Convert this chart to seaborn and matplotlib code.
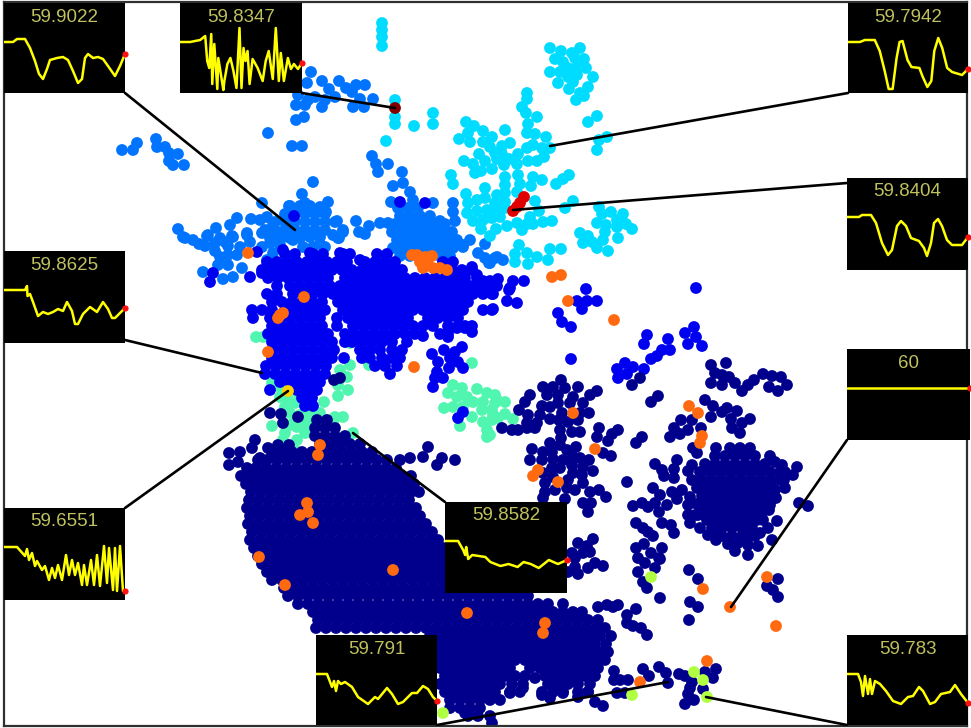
import pandas as pd
import seaborn as sns
import matplotlib
matplotlib.use("Agg")
import matplotlib.pyplot as plt

W, H = 971, 728
DOT_AREA = 72

COLORS = {"sky": "#0073ff", "cyan": "#00dcff", "mint": "#50f5b0", "blue": "#0000f0",
          "navy": "#00008c", "lime": "#b0ff40", "orange": "#ff6a10", "red": "#e00000",
          "maroon": "#800000", "gold": "#ffd000"}

sky_points = [(122,150),(133,150),(137,143),(156,139),(157,147),(165,147),(169,153),(178,154),(169,161),(173,165),(184,165),
 (268,133),(292,146),(302,146),(313,182),(302,194),(305,203),(262,203),(289,206),(311,72),(307,83),(298,95),(296,105),(305,105),
 (296,120),(304,117),(315,97),(308,100),(339,81),(346,88),(356,85),(365,85),(352,92),(360,99),(373,99),(353,107),(364,107),
 (329,89),(335,97),(322,81),(322,107),(325,100),(372,156),(376,164),(378,172),(388,164),(402,172),(403,183),(393,186),(410,192),
 (413,200),(391,202),(433,203),(453,203),(453,212),(455,221),(440,221),(356,221),(369,226),(359,232),(365,234),(380,223),(388,223),
 (396,228),(328,202),(326,212),(337,221),(343,230),(339,238),(320,207),(470,240),(463,247),(485,244),(478,253),(485,258),(497,257),
 (490,263),(503,260),(178,229),(183,237),(208,235),(216,228),(230,225),(237,218),(251,219),(260,220),(267,217),(273,225),(283,232),
 (247,233),(262,233),(220,238),(232,236),(185,238),(193,240),(199,244),(207,236),(215,243),(225,242),(233,237),(247,235),(250,242),
 (220,257),(228,255),(240,247),(237,255),(218,265),(228,265),(242,268),(203,272),(223,279),(233,277),(270,243),(262,247),(273,253),
 (267,260),(283,237),(280,245),(293,240),(303,247),(313,247),(325,247),(338,238),(310,237),(320,237),(333,235),(343,232),(463,245),
 (489,263),(495,258),(290,206),(300,206),(310,206),(285,214),(295,214),(305,214),(315,214),(325,214),(275,222),(285,222),(295,222),
 (305,222),(315,222),(325,222),(335,222),(265,230),(275,230),(285,230),(295,230),(305,230),(315,230),(325,230),(270,238),(280,238),
 (290,238),(300,238),(320,244),(205,246),(215,251),(228,246),(398,208),(408,208),(418,208),(400,216),(410,216),(420,216),(430,216),
 (395,224),(405,224),(415,224),(425,224),(435,224),(445,224),(392,232),(402,232),(412,232),(422,232),(432,232),(442,232),(452,232),
 (397,240),(407,240),(417,240),(427,240),(437,240),(447,240),(457,240),(393,248),(403,248),(413,248),(423,248),(433,248),(443,248),
 (453,248),(400,256),(410,256),(440,256),(450,256)]

cyan_points = [(382,23),(382,30),(382,37),(382,46),(395,100),(395,117),(395,124),(414,126),(433,113),(433,124),(386,141),
 (550,48),(561,51),(572,53),(580,48),(555,59),(563,62),(575,58),(584,59),(550,72),(560,72),(568,68),(577,67),(586,68),(568,77),
 (577,75),(593,77),(558,83),(573,82),(569,89),(580,93),(588,87),(584,96),(576,100),(527,93),(527,99),(522,107),(526,113),(537,117),
 (528,124),(527,133),(535,134),(546,137),(550,148),(542,148),(533,145),(527,148),(518,154),(544,157),(537,161),(528,161),(517,164),
 (509,159),(504,165),(497,159),(502,154),(510,143),(502,146),(492,137),(483,131),(505,130),(474,126),(466,122),(468,133),(459,139),
 (470,142),(483,142),(490,147),(495,153),(479,154),(485,161),(464,161),(473,164),(475,173),(481,171),(492,169),(451,175),(453,184),
 (588,122),(597,116),(607,137),(599,140),(597,150),(518,175),(533,177),(542,180),(505,177),(505,185),(520,184),(531,186),(556,184),
 (563,179),(569,175),(485,188),(466,194),(497,195),(505,193),(517,192),(468,203),(477,200),(485,198),(495,203),(505,202),(535,201),
 (573,201),(565,208),(539,211),(467,213),(477,211),(487,210),(497,212),(505,208),(473,221),(483,220),(492,218),(500,217),(530,217),
 (527,224),(533,224),(543,222),(552,221),(481,229),(496,229),(507,226),(517,223),(522,230),(490,236),(599,207),(602,214),(611,212),
 (623,214),(617,220),(597,223),(606,225),(617,227),(626,224),(632,229),(605,232),(618,238),(603,240),(580,233),(588,236),(583,243),
 (592,242),(597,248),(608,251),(519,245),(515,254),(527,253),(537,257),(550,249),(561,249),(548,260),(515,262),(528,264)]

mint_points = [(256,337),(263,337),(350,365),(369,365),(472,363),(327,357),(350,343),(340,370),(347,377),(338,385),(348,390),
 (338,396),(324,402),(272,383),(280,387),(287,397),(298,393),(295,403),(285,407),(290,413),(310,413),(320,413),(335,417),(343,417),
 (333,423),(272,426),(285,433),(297,427),(307,423),(305,433),(297,440),(295,450),(283,440),(353,433),(327,448),(335,450),(300,415),
 (280,397),(306,413),(295,420),(290,425),
 (453,385),(462,388),(448,393),(457,397),(477,389),(487,393),(467,397),(473,402),(483,402),(497,400),(444,408),(453,407),(463,407),
 (472,417),(482,410),(492,410),(483,422),(492,420),(498,418),(487,430),(487,437),(460,426),(495,395),(505,402),(495,403),(505,414),
 (513,419),(493,415),(490,435)]

blue_rows = {
 254: [285,295,313,323,343,350,377,387],
 262: [267,277,287,297,307,317,327,337,347,365,375,385,395,443,453],
 270: [262,272,282,292,302,312,322,332,342,352,362,372,382,392,402,452,462,472],
 278: [268,278,288,298,308,318,328,345,355,365,375,385,395,405,415,425,435,445,455,465,477],
 286: [277,290,300,310,320,330,340,350,360,370,380,390,400,410,420,430,440,450,460,470,480,490,497],
 294: [267,277,293,303,313,323,333,343,353,363,373,383,393,403,413,423,433,443,453,463,473,483,492],
 302: [272,282,292,302,312,322,338,348,358,368,378,388,398,408,418,428,438,448,458,468],
 310: [252,262,272,285,295,305,315,325,343,353,363,373,383,393,403,413,423,433,443,453,463,483,492],
 318: [253,270,280,290,300,310,320,337,348,358,368,378,388,398,408,428,438,448,458],
 326: [272,282,292,302,312,322,337,353,363,373,383,393,403,413,423,433,448,458,465,472],
 334: [268,278,288,298,308,318,328,345,355,365,375,385,395,405,415,440,448],
 342: [272,282,292,302,312,322,332,345,352,362,372,382,392,407],
 350: [274,284,294,304,314,324,334,360,370,380,392,402],
 358: [272,282,292,302,312,322,332,344,362,370,382,392,400],
 366: [266,276,286,296,306,316,326,375,385,397],
 374: [265,275,285,295,305,315,325,390],
 382: [280,290,300,310,320],
 390: [270,297,307,317],
 398: [302,312],
 406: [305,313]}

blue_points = [(210,282),(213,273),(257,252),(250,277),(262,273),(283,250),(310,253),(340,253),(360,260),(294,216),(400,202),(425,203),
 (432,354),(444,350),(462,347),(455,352),(438,362),(450,358),(458,362),(463,368),(449,368),(437,372),(443,378),(435,378),(433,387),
 (463,412),(458,418),(472,267),(477,275),(498,279),(490,281),(483,281),(513,281),(524,281),(510,288),(509,290),(493,294),(507,301),
 (517,303),(493,309),(586,289),(577,301),(587,301),(597,301),(582,309),(558,313),(562,322),(571,327),(571,359),(696,288),(694,327),
 (685,333),(696,337),(688,344),(702,346),(668,339),(647,335),(644,344),(670,350),(662,350),(657,356),(651,359),(644,369),(633,367),
 (625,363),(617,369),(627,374),(618,378),(472,332),(465,328),(457,328),(448,337),(423,336)]

navy_rows = {
 420: [317,327],
 428: [315,325,335],
 436: [315,325,335,345],
 444: [320,330,340,350,360],
 452: [272,282,292,302,312,322,332,342,352,362,372],
 460: [258,267,277,287,297,307,317,327,337,347,357,367,377,387],
 468: [247,256,266,276,286,296,306,316,326,336,346,356,366,376,386,396],
 476: [241,251,261,271,281,291,301,311,321,331,341,351,361,371,381,391,401,411],
 484: [246,256,266,276,286,296,306,316,326,336,346,356,366,376,386,396,406,414],
 492: [251,261,271,281,291,301,311,321,331,341,351,361,371,381,391,401,411,419],
 500: [249,259,269,279,289,299,309,319,329,339,349,359,369,379,389,399,409],
 508: [247,257,267,277,287,297,307,317,327,337,347,357,367,377,387,397,407,416],
 516: [250,260,270,280,290,300,310,320,330,340,350,360,370,380,390,400,410,420],
 524: [248,258,268,278,288,298,308,318,328,338,348,358,368,378,388,398,408,418,426],
 532: [252,262,272,282,292,302,312,322,332,342,352,362,372,382,392,402,412,422,432],
 540: [250,260,270,280,290,300,310,320,330,340,350,360,370,380,390,400,410,420,430,438],
 548: [254,264,274,284,294,304,314,324,334,344,354,364,374,384,394,404,414,424,434,443],
 556: [258,268,278,288,298,308,318,328,338,348,358,368,378,388,398,408,418,428,438,446],
 564: [262,272,282,292,302,312,322,332,342,352,362,372,382,392,402,412,422,432,442],
 572: [267,277,287,297,307,317,327,337,347,357,367,377,387,397,407,417,427,437,446],
 580: [272,282,292,302,312,322,332,342,352,362,372,382,392,402,412,422,432,442],
 588: [284,294,304,314,324,334,344,354,364,374,384,394,404,414,424,434,444],
 596: [288,298,308,318,328,338,348,358,368,378,388,398,408,418,428,438,448,458,468,478,488,498,508,518,528],
 604: [298,308,318,328,338,348,358,368,378,388,398,408,418,428,438,448,458,468,478,488,498,508,518,528,538,548,563],
 612: [313,323,333,343,353,363,373,383,393,403,413,423,433,443,453,463,473,483,493,503,513,523,533,543,553,563,573,582],
 620: [318,328,338,348,358,368,378,388,398,408,418,428,438,448,458,468,478,488,498,508,518,528,538,548,558,568,578,588,598],
 628: [316,326,336,346,356,366,376,386,396,406,416,426,436,446,456,466,476,486,496,506,516,526,536,546,556,566,576,586,596,605],
 636: [430,440,450,460,470,480,490,500,510,520,530,540,550,560,570,580,590,600,611],
 644: [435,445,455,465,475,485,495,505,515,525,535,545,555,565,575,585,595,606],
 652: [440,450,460,470,480,490,500,510,520,530,540,550,560,570,580,590,600,608],
 660: [435,445,455,465,475,485,495,505,515,525,535,545,555,565,575,585,595,605],
 668: [440,450,460,470,480,490,500,510,530,540,550,560,570,580,590,598],
 676: [445,455,465,475,485,495,505,515,525,545,555,565,575,585,595],
 684: [440,450,460,470,480,490,500,512,523,548,558,568,578,590],
 692: [445,455,465,475,485,495,510,520,542,553,563,578,588],
 700: [450,460,470,480,490,500],
 708: [450,460,470,480],
 716: [468,478,490]}

navy_points = [(255,440),(229,453),(240,452),(252,448),(268,448),(278,445),(289,445),(260,458),(229,465),(238,462),(428,447),(423,457),
 (410,458),(400,460),(442,458),(455,460),(437,465),(270,413),(281,414),(298,417),(283,423),(334,380),(340,378),
 (640,378),(632,385),(658,396),(651,402),(711,365),(726,363),(715,373),(722,375),(729,377),(711,383),(722,385),(735,383),(742,391),
 (748,385),(754,380),(763,374),(772,376),(781,377),(787,385),(769,387),(778,391),(561,380),(543,387),(553,387),(565,388),(578,387),
 (547,395),(558,395),(573,397),(597,391),(590,395),(530,395),(525,402),(558,403),(570,403),(583,403),(519,410),(542,406),(550,407),
 (562,413),(580,413),(589,413),(528,415),(540,415),(537,423),(527,423),(550,419),(559,420),(568,422),(578,420),(502,428),(512,430),
 (518,430),(527,428),(535,428),(560,430),(572,432),(580,432),(599,428),(618,430),(612,434),(597,437),(608,441),(561,438),(550,443),
 (560,445),(576,447),(567,450),(532,449),(543,452),(552,452),(603,453),(611,456),(573,457),(530,460),(542,460),(553,459),(563,460),
 (580,458),(589,460),(572,465),(583,467),(593,471),(552,468),(560,468),(543,473),(573,473),(582,475),(553,477),(568,480),(545,483),
 (583,483),(567,488),(575,490),(545,492),(555,490),(590,492),(599,490),(606,497),(543,498),(565,499),(583,503),(591,503),(588,512),
 (627,482),(636,443),(642,437),(670,437),(680,434),(688,430),(674,428),(681,420),(692,420),(701,428),(705,400),(713,406),(711,417),
 (722,412),(727,408),(737,411),(731,419),(742,423),(750,419),(732,428),(740,433),(693,448),(716,448),(775,462),(782,465),(797,467),
 (793,475),(785,488),(775,490),(776,498),(769,510),(777,521),(799,503),(808,506),(772,540),(760,533),(758,546),(748,555),(735,551),
 (728,544),(716,540),(718,533),(748,545),(738,543),(655,464),(662,470),(664,476),(677,460),(674,469),(674,478),(688,471),(653,488),
 (660,495),(672,492),(682,490),(677,499),(667,505),(659,512),(655,503),(648,507),(642,503),(633,506),(688,505),(688,515),(690,523),
 (698,515),(636,523),(643,528),(648,532),(653,536),(662,523),(671,525),(674,533),(636,548),(644,544),(651,553),(662,548),(638,558),
 (659,558),(578,543),(593,539),(587,546),(583,553),(572,553),(590,552),(595,563),(603,566),(588,568),(575,558),(575,567),(578,574),
 (568,572),(660,559),(645,563),(655,568),(638,572),(643,582),(647,588),(660,598),(689,570),(698,579),(690,602),(698,607),(689,620),
 (778,579),(767,586),(773,590),(778,597),(598,607),(607,605),(618,605),(613,607),(636,609),(627,615),(627,623),(633,626),(641,628),
 (647,635),(643,669),(649,676),(659,667),(666,673),(668,683),(679,674),(685,676),(692,682),(690,688),(688,694),(685,704),(694,700),
 (705,672),(716,669),(713,678),(703,689),(614,671),(620,680),(628,680),(614,680),(617,693),(625,693),(603,706),(595,702),(510,693),
 (523,688),(535,678),(542,695),(550,698),(563,693),(578,697),(588,692),(465,713),(492,723),
 (697,453),(690,497),(695,515),(700,528),(708,535),(763,520),(768,528),(755,536),(770,505),(780,480),(692,465),(785,472),(770,456)]

navy_core_rows = {
 448: [730,740,750],
 456: [715,725,735,745,755],
 464: [705,715,725,735,745,755,765],
 472: [700,710,720,730,740,750,760,770,780],
 480: [692,702,712,722,732,742,752,762,772,784],
 488: [697,707,717,727,737,747,757,767],
 496: [702,712,722,732,742,752,762,770],
 504: [697,707,717,727,737,747,757,765],
 512: [702,712,722,732,742,752,762],
 520: [707,717,727,737,747,757],
 528: [712,722,732,742,752],
 536: [722,732,742,750]}

lime_points = [(651,577),(694,672),(703,680),(707,697),(632,695),(443,713)]

orange_points = [(412,255),(417,255),(420,262),(425,257),(432,256),(423,268),(433,268),(440,268),(447,270),(427,262),(248,253),(304,297),
 (280,315),(283,313),(278,318),(268,352),(414,367),(552,277),(561,275),(568,301),(614,320),(689,406),(698,413),(702,436),(700,443),
 (595,449),(573,413),(538,470),(533,476),(558,482),(320,445),(318,455),(307,503),(308,512),(300,515),(313,523),(259,557),(285,585),
 (393,570),(467,613),(545,623),(543,633),(703,589),(767,577),(730,607),(776,626),(640,682),(707,661)]

red_points = [(524,197),(520,203),(517,207),(513,211)]
maroon_points = [(395,108)]
gold_points = [(288,391)]

labels = ["59.9022", "59.8347", "59.7942", "59.8404", "59.8625", "60", "59.6551", "59.8582", "59.791", "59.783"]
box_left = [4, 180, 848, 847, 4, 847, 4, 445, 316, 847]
box_top = [3, 3, 3, 178, 251, 349, 508, 502, 635, 635]
box_right = [125, 302, 968, 968, 125, 970, 125, 567, 437, 968]
box_bottom = [93, 93, 93, 270, 343, 440, 600, 593, 725, 725]
leader_x = [(125,295), (302,395), (848,550), (847,513), (125,262), (847,731), (125,288), (445,353), (437,668), (847,706)]
leader_y = [(93,230), (93,108), (93,146), (183,210), (340,373), (440,607), (508,391), (502,433), (725,682), (725,697)]

# traces: time steps along the window and drop below the 60 level
t1 = [0,9,13,21,26,31,35,39,43,46,53,59,64,69,74,78,81,84,89,94,99,104,111,116,121]
d1 = [0,0,-3,-3,6,19,32,37,27,18,16,15,18,29,41,37,16,12,16,15,17,24,34,24,12]
t2 = [0,10,20,25,27,29,31,32,34,37,38,43,44,47,50,53,56,59,61,63,65,67,69,72,77,82,85,88,92,95,98,100,103,107,110,113,117,121]
d2 = [0,0,-2,-6,19,26,-8,42,2,47,16,48,39,22,16,29,46,-14,46,6,19,9,42,17,26,39,19,9,37,-14,39,11,39,16,27,22,27,21]
t3 = [0,12,17,27,32,37,41,45,49,52,55,60,64,72,75,80,84,87,91,95,100,105,115,121]
d3 = [0,0,-2,-2,9,29,47,47,16,0,-1,18,25,26,34,45,39,9,-4,6,26,30,33,27]
t4 = [0,12,15,24,29,35,41,45,50,54,59,64,72,77,80,84,87,91,95,100,105,115,121]
d4 = [0,0,-2,-2,6,26,38,33,9,4,9,21,24,31,39,26,6,2,9,23,28,28,20]
t5 = [0,21,23,23.5,26,29,34,39,44,49,54,59,63,68,71,74,79,86,93,99,104,108,111,121]
d5 = [0,0,-4,6,4,12,26,22,24,22,19,21,12,21,34,34,24,17,22,12,19,28,28,18]
t6 = [0,121]
d6 = [0,0]
t7 = [0,13,21,23,25,28,31,33,38,41,45,48,51,54,58,62,65,68,71,74,78,80,83,87,90,93,96,100,103,105,109,111,113,116,119,121]
d7 = [0,0,9,2,13,6,19,14,23,19,33,21,31,18,33,8,28,13,28,16,38,18,38,13,38,8,39,-1,36,1,43,1,44,-1,44,44]
t8 = [0,13,18,20,21,23,27,40,45,55,63,72,78,85,93,103,112,121]
d8 = [0,0,9,14,6,18,14,16,21,25,23,26,21,23,27,19,23,19]
t9 = [0,11,16,18,20,22,25,29,36,42,52,59,62,71,76,82,87,96,101,107,112,117,121]
d9 = [0,0,13,7,17,7,10,8,13,23,30,23,25,14,20,30,28,19,19,12,15,23,27]
t10 = [0,11,14,16,18,21,23,25,28,33,39,46,54,61,66,72,76,83,88,94,103,108,114,121]
d10 = [0,0,8,22,2,20,5,20,7,10,17,27,30,23,22,13,17,30,28,20,18,11,20,29]
trace_t = [t1, t2, t3, t4, t5, t6, t7, t8, t9, t10]
trace_d = [d1, d2, d3, d4, d5, d6, d7, d8, d9, d10]


def expand(rows):
    return [(x, y) for y, xs in rows.items() for x in xs]


groups = [("sky", sky_points), ("cyan", cyan_points), ("mint", mint_points),
          ("blue", expand(blue_rows) + blue_points),
          ("navy", expand(navy_rows) + navy_points + expand(navy_core_rows)),
          ("lime", lime_points), ("orange", orange_points), ("red", red_points),
          ("maroon", maroon_points), ("gold", gold_points)]
frames = [pd.DataFrame(pts, columns=["x", "y"]).assign(group=name) for name, pts in groups]
df = pd.concat(frames, ignore_index=True)

sns.set_theme(style="white")
fig = plt.figure(figsize=(W / 100, H / 100), dpi=100, facecolor="white")
ax = fig.add_axes([4 / W, 1 - 726 / H, (967 - 4) / W, (726 - 2) / H])
sns.scatterplot(data=df, x="x", y="y", hue="group", palette=COLORS, s=DOT_AREA, linewidth=0, edgecolor="none", legend=False, ax=ax)
ax.set_xlim(4, 967)
ax.set_ylim(726, 2)
ax.set_xticks([])
ax.set_yticks([])
ax.set_xlabel("")
ax.set_ylabel("")
for s in ax.spines.values():
    s.set_color("#303030")
    s.set_linewidth(1.6)
for lx, ly in zip(leader_x, leader_y):
    ax.plot(lx, ly, color="black", lw=1.9, zorder=5, solid_capstyle="round")

for i, lab in enumerate(labels):
    x0, x1, y0, y1 = box_left[i], box_right[i], box_top[i], box_bottom[i]
    a = fig.add_axes([x0 / W, 1 - y1 / H, (x1 - x0) / W, (y1 - y0) / H], zorder=10, facecolor="black")
    sns.lineplot(x=trace_t[i], y=trace_d[i], color="#ffff00", lw=1.8, sort=False, estimator=None, ax=a)
    a.scatter(trace_t[i][-1], trace_d[i][-1], s=20, color="#ff1010", linewidth=0, clip_on=False, zorder=6)
    a.set_xlim(0, 121)
    a.set_ylim((y1 - y0) - 39, -39)
    a.set_xticks([])
    a.set_yticks([])
    for s in a.spines.values():
        s.set_visible(False)
    a.text(0.5, 1 - 14 / (y1 - y0), lab, transform=a.transAxes, ha="center", va="center",
           color="#c0c060", fontsize=13.5, family="Liberation Sans")

fig.savefig("out.png", dpi=100, facecolor="white")
